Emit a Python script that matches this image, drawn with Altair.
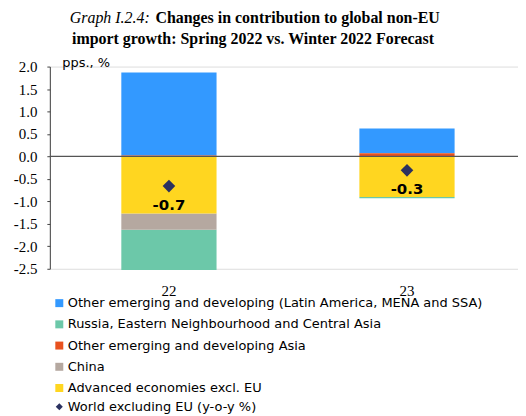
import altair as alt
import pandas as pd

years = ["22", "23"]
series = [
    "Other emerging and developing (Latin America, MENA and SSA)",
    "Russia, Eastern Neighbourhood and Central Asia",
    "Other emerging and developing Asia",
    "China",
    "Advanced economies excl. EU",
]
colors = ["#3399FF", "#6CC8A9", "#E8521F", "#B5A8A0", "#FFD620"]
stack_order = [5, 3, 4, 2, 1]

other_em = [1.85, 0.55]
russia = [-0.90, -0.03]
asia = [0.02, 0.07]
china = [-0.36, 0.0]
advanced = [-1.27, -0.90]
world = [-0.66, -0.31]
world_label = "World excluding EU (y-o-y %)"

y_ticks = [2.0, 1.5, 1.0, 0.5, 0.0, -0.5, -1.0, -1.5, -2.0, -2.5]

rows = []
for s, vals, o in zip(series, [other_em, russia, asia, china, advanced], stack_order):
    for yr, v in zip(years, vals):
        rows.append({"year": yr, "series": s, "value": v, "order": o})
bars_df = pd.DataFrame(rows)
world_df = pd.DataFrame({"year": years, "world": world, "label": [world_label] * len(years)})

W, H = 470, 203

x_enc = alt.X(
    "year:N",
    sort=years,
    scale=alt.Scale(paddingInner=0.6, paddingOuter=0.2833, align=0.53),
    axis=alt.Axis(
        title=None, domain=False, ticks=False, labelAngle=0,
        labelFont="Liberation Serif", labelFontSize=15, labelColor="black",
        labelPadding=15,
    ),
)
y_scale = alt.Scale(domain=[-2.5, 2.0], nice=False, zero=False)

bars = alt.Chart(bars_df).mark_bar().encode(
    x=x_enc,
    y=alt.Y(
        "value:Q",
        stack="zero",
        scale=y_scale,
        axis=alt.Axis(
            values=y_ticks, tickCount=len(y_ticks), format=".1f", grid=False,
            labelOverlap=False,
            labelFont="Liberation Serif", labelFontSize=15, labelColor="black",
            labelPadding=10, tickSize=3, tickColor="#444", domainColor="#444",
            title="pps., %", titleAngle=0, titleFont="DejaVu Sans",
            titleFontSize=13, titleFontWeight="normal", titleColor="black",
            titleX=12, titleY=-4, titleAlign="left", titleBaseline="middle",
        ),
    ),
    color=alt.Color(
        "series:N",
        scale=alt.Scale(domain=series, range=colors),
        legend=alt.Legend(
            title=None, orient="none", legendX=3, legendY=231,
            direction="vertical", symbolType="square", symbolSize=64,
            symbolStrokeWidth=0, labelFont="DejaVu Sans", labelFontSize=13,
            labelColor="black", rowPadding=7.3, padding=0, labelOffset=2,
            labelLimit=500,
        ),
    ),
    order=alt.Order("order:Q"),
)

zero = alt.Chart(pd.DataFrame({"z": [0.0]})).mark_rule(
    color="#555555", strokeWidth=1.3
).encode(y=alt.Y("z:Q", scale=y_scale))

points = alt.Chart(world_df).mark_point(
    filled=True, size=160, color="#2B3160", opacity=1
).encode(
    x=alt.X("year:N", sort=years),
    y=alt.Y("world:Q", scale=y_scale),
    shape=alt.Shape(
        "label:N",
        scale=alt.Scale(range=["diamond"]),
        legend=alt.Legend(
            title=None, orient="none", legendX=3, legendY=335,
            symbolSize=50, symbolFillColor="#2B3160", symbolStrokeWidth=0,
            labelFont="DejaVu Sans", labelFontSize=13, labelColor="black",
            padding=0, labelOffset=2, labelLimit=500,
        ),
    ),
)

labels = alt.Chart(world_df).mark_text(
    dy=19, fontWeight="bold", fontSize=15, font="DejaVu Sans", color="black"
).encode(
    x=alt.X("year:N", sort=years),
    y=alt.Y("world:Q", scale=y_scale),
    text=alt.Text("world:Q", format=".1f"),
)

title_df = pd.DataFrame({
    "t": ["Graph I.2.4:", "Changes in contribution to global non-EU",
          "import growth: Spring 2022 vs. Winter 2022 Forecast"],
})
t1 = alt.Chart(title_df.iloc[[0]]).mark_text(
    font="Liberation Serif", fontSize=16, fontStyle="italic", align="left",
    baseline="alphabetic", color="black"
).encode(text="t:N", x=alt.value(20), y=alt.value(-44))
t2 = alt.Chart(title_df.iloc[[1]]).mark_text(
    font="Liberation Serif", fontSize=16, fontWeight="bold", align="left",
    baseline="alphabetic", color="black"
).encode(text="t:N", x=alt.value(106), y=alt.value(-44))
t3 = alt.Chart(title_df.iloc[[2]]).mark_text(
    font="Liberation Serif", fontSize=16, fontWeight="bold", align="center",
    baseline="alphabetic", color="black"
).encode(text="t:N", x=alt.value(204), y=alt.value(-23))

chart = alt.layer(bars, zero, points, labels, t1, t2, t3).resolve_scale(
    shape="independent"
).properties(
    width=W, height=H,
    autosize=alt.AutoSizeParams(type="none"),
    padding={"left": 42, "top": 58, "right": 0, "bottom": 145},
).configure_view(stroke=None).configure(
    locale={"number": {"decimal": ".", "thousands": ",", "grouping": [3],
                        "currency": ["", ""], "minus": "-"}}
)

chart.save("out.html", embed_options={"renderer": "svg", "actions": False})
